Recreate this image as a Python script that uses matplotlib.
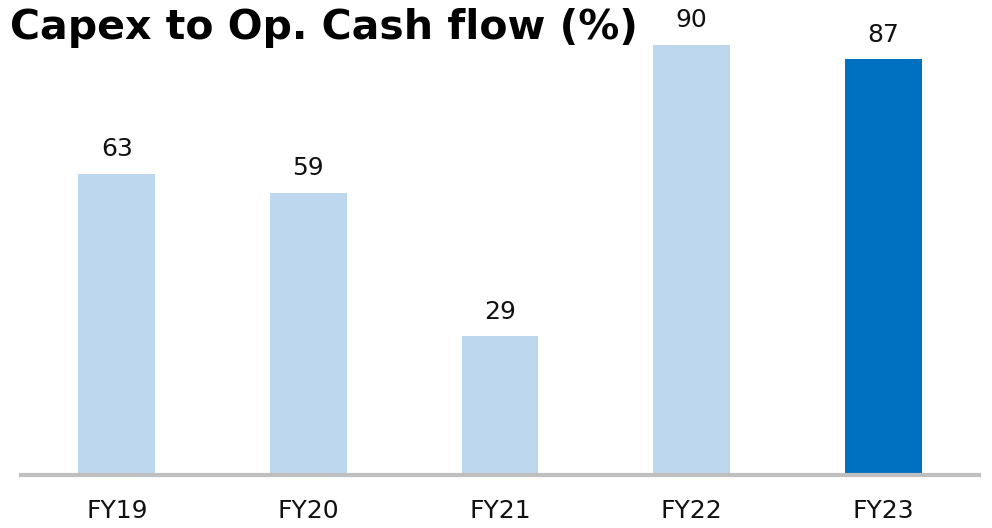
import matplotlib
matplotlib.use("Agg")
from matplotlib import pyplot as plt

# data
years = ["FY19", "FY20", "FY21", "FY22", "FY23"]
ratio = [63, 59, 29, 90, 87]
light = "#BDD7EE"
dark = "#0070C0"
colors = [light, light, light, light, dark]

fig = plt.figure(figsize=(9.92, 5.28), dpi=100)
ax = fig.add_axes([21/992, 53.5/528, 958/992, 474.5/528])

x = range(len(years))
ax.bar(x, ratio, width=0.40, color=colors, zorder=2)

for i, v in zip(x, ratio):
    ax.annotate(str(v), (i, v), xytext=(0, 9), textcoords="offset points",
                ha="center", va="bottom", fontsize=18, color="#111111")

ax.set_xlim(-0.5, len(years) - 0.5)
ax.set_ylim(0, 99.4)
ax.set_xticks(list(x))
ax.set_xticklabels(years, fontsize=18, color="#111111")
ax.tick_params(axis="x", length=0, pad=18)
ax.set_yticks([])

for s in ["top", "right", "left"]:
    ax.spines[s].set_visible(False)
ax.spines["bottom"].set_color("#BFBFBF")
ax.spines["bottom"].set_linewidth(3)
ax.spines["bottom"].set_zorder(3)

fig.text(10/992, 1 - 39/528, "Capex to Op. Cash flow (%)", fontsize=29.5,
         fontweight="bold", ha="left", va="baseline", color="black")

fig.savefig("out.png", dpi=100)
